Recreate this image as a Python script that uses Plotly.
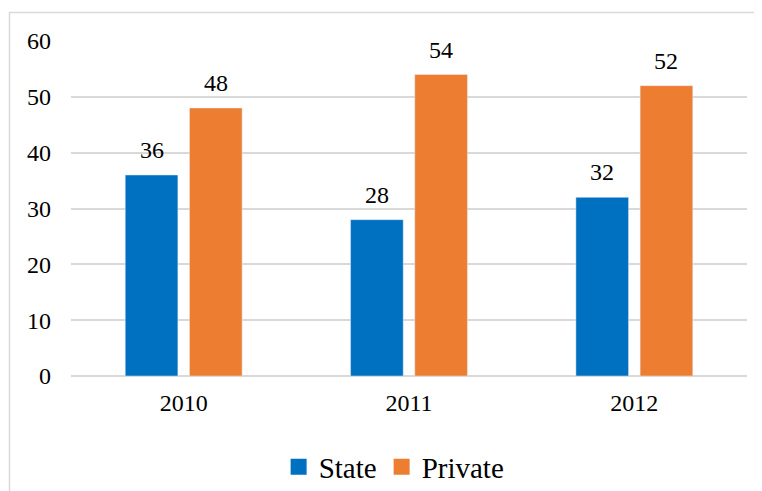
import plotly.graph_objects as go

years = ["2010", "2011", "2012"]
state = [36, 28, 32]
private = [48, 54, 52]

FONT = "'Times New Roman', 'Liberation Serif', 'DejaVu Serif', serif"
BLUE = "#0070C0"
ORANGE = "#ED7D31"

fig = go.Figure()
fig.add_trace(go.Bar(x=years, y=state, name="State", marker_color=BLUE, showlegend=False))
fig.add_trace(go.Bar(x=years, y=private, name="Private", marker_color=ORANGE, showlegend=False))
# legend entries with larger square markers
fig.add_trace(go.Scatter(x=[years[0]], y=[None], mode="markers", name="State",
                         marker=dict(symbol="square", size=16, color=BLUE)))
fig.add_trace(go.Scatter(x=[years[0]], y=[None], mode="markers", name="Private",
                         marker=dict(symbol="square", size=16, color=ORANGE)))

# data labels above bars (category index positions on the category axis)
for vals, dx in ((state, -32), (private, 32)):
    for i, v in enumerate(vals):
        fig.add_annotation(x=i, y=v, xref="x", yref="y", text=str(v), showarrow=False,
                           xshift=dx, yanchor="bottom", yshift=10,
                           font=dict(family=FONT, size=24, color="#000000"))

# page body adds an 8px offset, so margins are shifted accordingly
L, R, T, B = 63, 23, 33, 123
W, H = 762, 491
pw, ph = W - L - R, H - T - B

fig.update_layout(
    width=W, height=H,
    margin=dict(l=L, r=R, t=T, b=B, autoexpand=False),
    barmode="group", bargap=0.43, bargroupgap=0.18,
    paper_bgcolor="white", plot_bgcolor="white",
    font=dict(family=FONT, size=24, color="#000000"),
    showlegend=True,
    legend=dict(orientation="h", x=0.478, xanchor="center", y=-(459 - (H - B)) / ph,
                yanchor="middle", font=dict(family=FONT, size=29, color="#000000"),
                itemwidth=30, tracegroupgap=0),
    xaxis=dict(type="category", range=[-0.5, 2.5], showgrid=False, showline=False, ticks="",
               automargin=False, tickfont=dict(family=FONT, size=24), ticklabelstandoff=10),
    yaxis=dict(range=[0, 60], dtick=10, showgrid=True, gridcolor="#D9D9D9", gridwidth=1.5,
               zeroline=True, zerolinecolor="#D9D9D9", zerolinewidth=1.5, automargin=False,
               showline=False, ticks="", tickfont=dict(family=FONT, size=24), ticklabelstandoff=19),
    shapes=[dict(type="rect", xref="paper", yref="paper",
                 x0=(1.5 - L) / pw, x1=(W + 5 - L) / pw,
                 y0=-(H + 5 - (H - B)) / ph, y1=((H - B) - 4.5) / ph,
                 line=dict(color="#D9D9D9", width=1.5), fillcolor="rgba(0,0,0,0)", layer="below")],
)

fig.write_html("out.html")
